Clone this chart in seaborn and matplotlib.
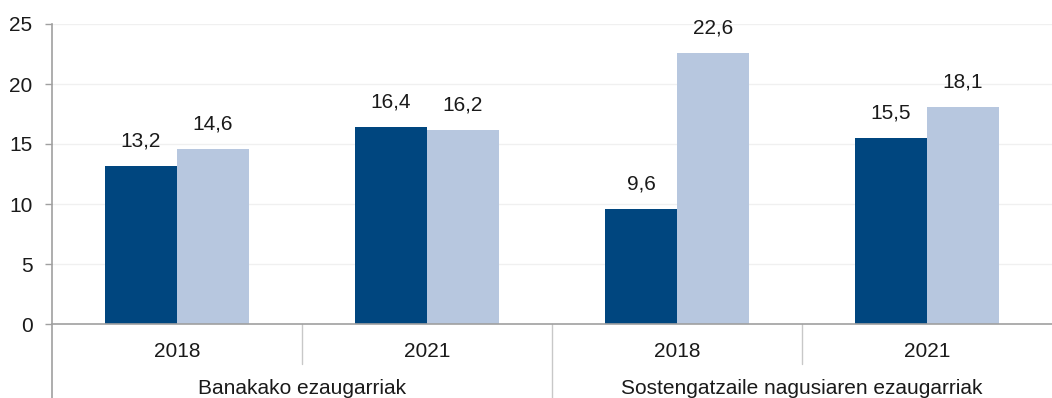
import matplotlib
matplotlib.use("Agg")
import matplotlib.pyplot as plt
import seaborn as sns
import pandas as pd

# Data
groups = ["Banakako ezaugarriak", "Sostengatzaile nagusiaren ezaugarriak"]
years = ["2018", "2021", "2018", "2021"]
categories = ["B-2018", "B-2021", "S-2018", "S-2021"]
series_names = ["Serie 1", "Serie 2"]
serie1 = [13.2, 16.4, 9.6, 15.5]
serie2 = [14.6, 16.2, 22.6, 18.1]
yticks = [0, 5, 10, 15, 20, 25]

df = pd.DataFrame({
    "cat": categories * 2,
    "serie": [series_names[0]] * 4 + [series_names[1]] * 4,
    "value": serie1 + serie2,
})

sns.set_theme(style="white")
plt.rcParams["font.family"] = ["Liberation Sans", "DejaVu Sans"]

FS = 15
fig = plt.figure(figsize=(10.52, 3.98), dpi=100)
ax = fig.add_axes([52 / 1052, 74 / 398, 1000 / 1052, 300 / 398])

palette = {series_names[0]: "#00467F", series_names[1]: "#B7C7DF"}
sns.barplot(data=df, x="cat", y="value", hue="serie", order=categories,
            hue_order=series_names, palette=palette, width=0.576, gap=0,
            saturation=1, legend=False, ax=ax, errorbar=None, linewidth=0)

for cont in ax.containers:
    ax.bar_label(cont, labels=[f"{v:.1f}".replace(".", ",") for v in cont.datavalues],
                 padding=11, fontsize=FS, color="#1a1a1a")

ax.set_ylim(0, 25)
ax.set_xlim(-0.5, 3.5)
ax.set_yticks(yticks)
ax.set_yticklabels([str(t) for t in yticks], fontsize=FS, color="#1a1a1a")
ax.set_xticks(range(4))
ax.set_xticklabels(years, fontsize=FS, color="#1a1a1a")
ax.tick_params(axis="x", length=0, pad=13)
ax.tick_params(axis="y", length=5, width=1, color="#a0a0a0", pad=9, left=True)
ax.set_xlabel("")
ax.set_ylabel("")

ax.yaxis.grid(True, color="#f0f0f0", linewidth=1)
ax.set_axisbelow(True)
for s in ["top", "right"]:
    ax.spines[s].set_visible(False)
for s in ["left", "bottom"]:
    ax.spines[s].set_color("#a0a0a0")
    ax.spines[s].set_linewidth(1.2)

tr = ax.get_xaxis_transform()
bottom_ext = -74 / 300
short_ext = -40 / 300
# left spine extension and group separators
ax.plot([-0.5, -0.5], [0, bottom_ext], transform=tr, color="#a0a0a0", lw=1.2, clip_on=False)
ax.plot([1.5, 1.5], [0, bottom_ext], transform=tr, color="#c8c8c8", lw=1, clip_on=False)
for xs in [0.5, 2.5]:
    ax.plot([xs, xs], [0, short_ext], transform=tr, color="#c8c8c8", lw=1, clip_on=False)

for i, g in enumerate(groups):
    ax.text(0.5 + 2 * i, -64 / 300, g, transform=tr, ha="center", va="center",
            fontsize=FS, color="#1a1a1a")

fig.savefig("out.png", dpi=100)
